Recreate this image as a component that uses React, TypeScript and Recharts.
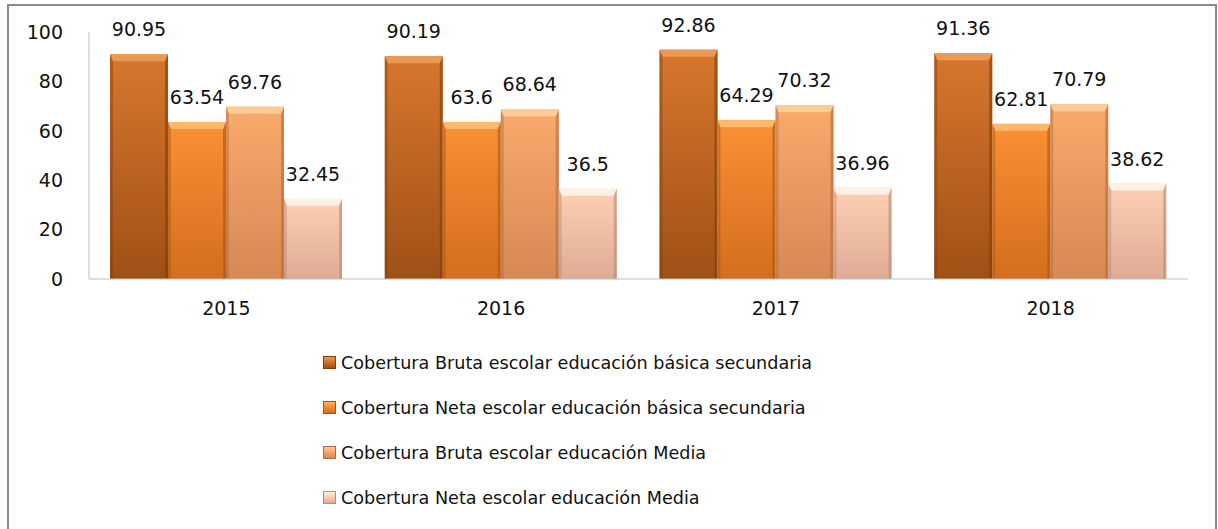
import { Bar, BarChart, LabelList, XAxis, YAxis } from "recharts";

const years = ["2015", "2016", "2017", "2018"];
const brutaBasica = [90.95, 90.19, 92.86, 91.36];
const netaBasica = [63.54, 63.6, 64.29, 62.81];
const brutaMedia = [69.76, 68.64, 70.32, 70.79];
const netaMedia = [32.45, 36.5, 36.96, 38.62];
const seriesNames = [
  "Cobertura Bruta escolar educación básica secundaria",
  "Cobertura Neta escolar educación básica secundaria",
  "Cobertura Bruta escolar educación Media",
  "Cobertura Neta escolar educación Media",
];
const yTicks = [0, 20, 40, 60, 80, 100];

const data = years.map((year, i) => ({
  year,
  s0: brutaBasica[i],
  s1: netaBasica[i],
  s2: brutaMedia[i],
  s3: netaMedia[i],
}));

// top, bottom, bevel highlight, edge shade
const palette = [
  { top: "#d8772e", bottom: "#9f5015", light: "#eb9a55", edge: "#7d3e0e" },
  { top: "#fb9035", bottom: "#d46e1d", light: "#ffb86c", edge: "#a8550f" },
  { top: "#fbaa6c", bottom: "#d78854", light: "#ffcb96", edge: "#b06a3c" },
  { top: "#fed0b5", bottom: "#deab94", light: "#fff0e4", edge: "#b88a74" },
];

const FONT = "'DejaVu Sans', sans-serif";

function BevelBar(props: any) {
  const { x, y, width, height, k } = props;
  if (!height || height <= 0) return null;
  const t = 7;
  const s = 3;
  const c = palette[k];
  return (
    <g>
      <rect x={x} y={y} width={width} height={height} fill={`url(#grad${k})`} />
      <polygon
        points={`${x},${y} ${x + width},${y} ${x + width - s},${y + t} ${x + s},${y + t}`}
        fill={c.light}
      />
      <polygon
        points={`${x},${y} ${x + s},${y + t} ${x + s},${y + height} ${x},${y + height}`}
        fill={c.edge}
        opacity={0.45}
      />
      <polygon
        points={`${x + width},${y} ${x + width - s},${y + t} ${x + width - s},${y + height} ${x + width},${y + height}`}
        fill={c.edge}
        opacity={0.6}
      />
    </g>
  );
}

function LegendBox() {
  return (
    <div
      style={{
        position: "absolute",
        left: 314,
        top: 334,
        fontFamily: FONT,
        fontSize: 17.6,
        color: "#111",
      }}
    >
      {seriesNames.map((name, k) => (
        <div key={name} style={{ display: "flex", alignItems: "center", height: 45 }}>
          <span
            style={{
              display: "inline-block",
              width: 11,
              height: 11,
              marginRight: 5,
              background: `linear-gradient(${palette[k].light}, ${palette[k].top} 40%, ${palette[k].bottom})`,
              border: `1px solid ${palette[k].edge}`,
            }}
          />
          <span>{name}</span>
        </div>
      ))}
    </div>
  );
}

export default function App() {
  return (
    <div
      style={{
        position: "absolute",
        left: 7,
        top: 4,
        width: 1206,
        height: 530,
        border: "2px solid #8a8a8a",
        borderBottom: "none",
        background: "#fff",
      }}
    >
      <BarChart
        width={1206}
        height={330}
        data={data}
        margin={{ top: 26, right: 27, bottom: 17, left: 0 }}
        barCategoryGap={21}
        barGap={0}
      >
        <defs>
          {palette.map((c, k) => (
            <linearGradient key={k} id={`grad${k}`} x1="0" y1="0" x2="0" y2="1">
              <stop offset="0%" stopColor={c.top} />
              <stop offset="100%" stopColor={c.bottom} />
            </linearGradient>
          ))}
        </defs>
        <XAxis
          dataKey="year"
          tickLine={false}
          axisLine={{ stroke: "#bfbfbf" }}
          tickMargin={17}
          height={40}
          tick={{ fill: "#111", fontSize: 19, fontFamily: FONT }}
        />
        <YAxis
          domain={[0, 100]}
          ticks={yTicks}
          width={80}
          tickLine={false}
          axisLine={{ stroke: "#bfbfbf" }}
          tickMargin={20}
          tick={{ fill: "#111", fontSize: 19, fontFamily: FONT }}
        />
        {["s0", "s1", "s2", "s3"].map((key, k) => (
          <Bar
            key={key}
            dataKey={key}
            name={seriesNames[k]}
            fill={palette[k].top}
            isAnimationActive={false}
            shape={(p: any) => <BevelBar {...p} k={k} />}
          >
            <LabelList
              dataKey={key}
              position="top"
              offset={18}
              fill="#111"
              fontSize={19}
              fontFamily={FONT}
            />
          </Bar>
        ))}
      </BarChart>
      <LegendBox />
    </div>
  );
}
